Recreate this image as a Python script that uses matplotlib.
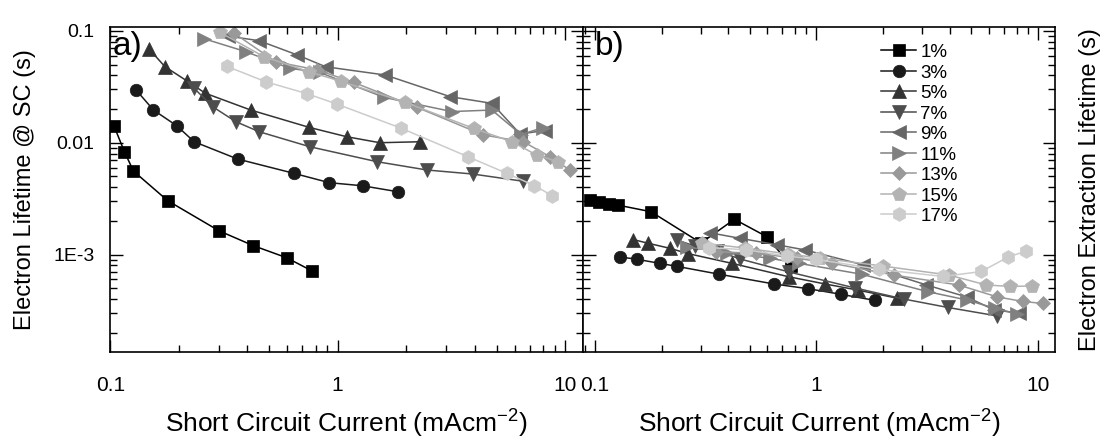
import numpy as np
import matplotlib
matplotlib.use("Agg")
import matplotlib.pyplot as plt
from matplotlib import font_manager
from matplotlib.ticker import FixedLocator, FixedFormatter, LogLocator, NullFormatter

# ---------------- data ----------------
series_labels = ["1%", "3%", "5%", "7%", "9%", "11%", "13%", "15%", "17%"]
series_colors = ["#000000", "#1a1a1a", "#333333", "#4d4d4d", "#666666",
                 "#808080", "#999999", "#b3b3b3", "#cccccc"]
series_markers = ["s", "o", "^", "v", "<", ">", "D", "p", "h"]

# short-circuit current (mA cm^-2), shared by both panels
jsc_1 = [0.0947, 0.1038, 0.1155, 0.1265, 0.179, 0.301, 0.426, 0.597, 0.769]
jsc_3 = [0.130, 0.155, 0.196, 0.234, 0.363, 0.643, 0.920, 1.287, 1.845]
jsc_5 = [0.1487, 0.174, 0.218, 0.262, 0.415, 0.748, 1.095, 1.533, 2.30]
jsc_7 = [0.234, 0.282, 0.357, 0.452, 0.754, 1.493, 2.474, 3.92, 6.56]
jsc_9 = [0.329, 0.452, 0.666, 0.886, 1.623, 3.13, 4.77, 6.35, 8.17]
jsc_11 = [0.2593, 0.395, 0.616, 0.834, 1.607, 3.18, 4.77, 6.41, 8.04]
jsc_13 = [0.351, 0.535, 0.815, 1.179, 2.236, 4.38, 6.56, 8.59, 10.5]
jsc_15 = [0.303, 0.4746, 0.7475, 1.036, 1.987, 3.96, 5.84, 7.51, 9.35]
jsc_17 = [0.326, 0.483, 0.736, 0.997, 1.909, 3.74, 5.55, 7.33, 8.81]

# panel a) electron lifetime at short circuit (s); nan = outside plotted range
tau_sc_1 = [np.nan, 0.01419, 0.00831, 0.00558, 0.00303, 0.00163, 0.00120, 0.000936, 0.000716]
tau_sc_3 = [0.0296, 0.0196, 0.0142, 0.0102, 0.00715, 0.00532, 0.00439, 0.00412, 0.00364]
tau_sc_5 = [0.0685, 0.0479, 0.0356, 0.0277, 0.0196, 0.01374, 0.01132, 0.0100, 0.0102]
tau_sc_7 = [0.0307, 0.0210, 0.01542, 0.01254, 0.00921, 0.00676, 0.0057, 0.00525, 0.00452]
tau_sc_9 = [0.0900, 0.0817, 0.0609, 0.0478, 0.0403, 0.0258, 0.0225, 0.01197, 0.01286]
tau_sc_11 = [0.0850, 0.0652, 0.0463, 0.0425, 0.0254, 0.0190, 0.0196, 0.01184, 0.01368]
tau_sc_13 = [0.0952, 0.0530, 0.0447, 0.0346, 0.0207, 0.01172, 0.0102, 0.0075, 0.0057]
tau_sc_15 = [0.0974, 0.0588, 0.0432, 0.0354, 0.0229, 0.01345, 0.0102, 0.00776, 0.00676]
tau_sc_17 = [0.0482, 0.0351, 0.0274, 0.0221, 0.01345, 0.0075, 0.00532, 0.00414, 0.00335]

# panel b) electron extraction lifetime (s)
tau_ex_1 = [0.003073, 0.002965, 0.00283, 0.00277, 0.002415, 0.001268, 0.002066, 0.001443, 0.000788]
tau_ex_3 = [0.000951, 0.000906, 0.000834, 0.000784, 0.000667, 0.000545, 0.000494, 0.000441, 0.000388]
tau_ex_5 = [0.001362, 0.00126, 0.001136, 0.001021, 0.000834, 0.000633, 0.000545, 0.000481, 0.000408]
tau_ex_7 = [0.001349, 0.001192, 0.001075, 0.000912, 0.000697, 0.000502, 0.0004, 0.000336, 0.000282]
tau_ex_9 = [0.001567, 0.001396, 0.00122, 0.0011, 0.000808, 0.000535, 0.000417, 0.000319, 0.0003]
tau_ex_11 = [0.001167, 0.001038, 0.000925, 0.000834, 0.000665, 0.000465, 0.000392, 0.00033, 0.000294]
tau_ex_13 = [0.00106, 0.001026, 0.000925, 0.000834, 0.000655, 0.000534, 0.000417, 0.00038, 0.000365]
tau_ex_15 = [0.001268, 0.001143, 0.00101, 0.000931, 0.000789, 0.000655, 0.000534, 0.000518, 0.000523]
tau_ex_17 = [0.001155, 0.0011, 0.00097, 0.000906, 0.000737, 0.000636, 0.000705, 0.00095, 0.00107]

x_ticks = [0.1, 1, 10]
x_tick_labels = ["0.1", "1", "10"]
y_ticks = [0.1, 0.01, 1e-3]
y_tick_labels = ["0.1", "0.01", "1E-3"]

jsc_all = [jsc_1, jsc_3, jsc_5, jsc_7, jsc_9, jsc_11, jsc_13, jsc_15, jsc_17]
tau_sc_all = [tau_sc_1, tau_sc_3, tau_sc_5, tau_sc_7, tau_sc_9, tau_sc_11, tau_sc_13, tau_sc_15, tau_sc_17]
tau_ex_all = [tau_ex_1, tau_ex_3, tau_ex_5, tau_ex_7, tau_ex_9, tau_ex_11, tau_ex_13, tau_ex_15, tau_ex_17]

# ---------------- style ----------------
names = {f.name for f in font_manager.fontManager.ttflist}
base_font = "Liberation Sans" if "Liberation Sans" in names else "DejaVu Sans"
plt.rcParams["font.family"] = [base_font, "DejaVu Sans"]
plt.rcParams["mathtext.fontset"] = "custom"
plt.rcParams["mathtext.rm"] = base_font
plt.rcParams["mathtext.it"] = base_font

marker_sizes = {"s": 8, "o": 9, "^": 10.5, "v": 10.5, "<": 10.5, ">": 10.5,
                "D": 7.5, "p": 10, "h": 10}

W, H = 1107, 443
fig = plt.figure(figsize=(W / 100, H / 100), dpi=100)
ax_a = fig.add_axes([110 / W, 1 - 352 / H, 473 / W, 325 / H])
ax_b = fig.add_axes([583 / W, 1 - 352 / H, 472 / W, 325 / H])

for ax, taus in ((ax_a, tau_sc_all), (ax_b, tau_ex_all)):
    for lab, col, mk, xs, ys in zip(series_labels, series_colors, series_markers, jsc_all, taus):
        ax.plot(xs, ys, color=col, marker=mk, ms=marker_sizes[mk], mfc=col, mec=col,
                mew=0.5, lw=1.1, label=lab)
    ax.set_xscale("log")
    ax.set_yscale("log")
    ax.set_ylim(1.343e-4, 0.1084)
    ax.xaxis.set_major_locator(FixedLocator(x_ticks))
    ax.xaxis.set_major_formatter(FixedFormatter(x_tick_labels))
    ax.xaxis.set_minor_locator(LogLocator(base=10, subs=np.arange(2, 10)))
    ax.xaxis.set_minor_formatter(NullFormatter())
    ax.yaxis.set_major_locator(FixedLocator(y_ticks))
    ax.yaxis.set_major_formatter(FixedFormatter(y_tick_labels))
    ax.yaxis.set_minor_locator(LogLocator(base=10, subs=np.arange(2, 10), numticks=20))
    ax.yaxis.set_minor_formatter(NullFormatter())
    ax.tick_params(which="both", direction="in", top=True, right=True, width=1.0)
    ax.tick_params(which="major", length=9)
    ax.tick_params(which="minor", length=5)
    ax.tick_params(axis="x", which="major", pad=17, labelsize=15)
    ax.tick_params(axis="y", which="major", pad=11, labelsize=14)
    for sp in ax.spines.values():
        sp.set_linewidth(1.2)
    ax.set_xlabel(r"Short Circuit Current (mAcm$^{-2}$)", fontsize=19)
    ax.xaxis.set_label_coords(0.5, -0.172)
    ax.xaxis.label.set_va("top")

ax_a.set_xlim(0.0998, 12.0)
ax_b.set_xlim(0.0883, 11.93)
ax_b.tick_params(axis="y", which="both", labelleft=False)

ax_a.set_ylabel("Electron Lifetime @ SC (s)", fontsize=17)
ax_a.yaxis.set_label_coords(-0.18, 0.5)
ax_a.yaxis.label.set_va("center")

ax_b.set_ylabel("Electron Extraction Lifetime (s)", fontsize=17)
ax_b.yaxis.set_label_position("right")
ax_b.yaxis.set_label_coords(1.074, 0.5)
ax_b.yaxis.label.set_va("center")
ax_b.yaxis.label.set_rotation(90)

ax_a.text(0.006, 0.914, "a)", transform=ax_a.transAxes, fontsize=24, va="baseline", ha="left")
ax_b.text(0.025, 0.914, "b)", transform=ax_b.transAxes, fontsize=24, va="baseline", ha="left")

leg = ax_b.legend(loc="upper left", bbox_to_anchor=(0.631, 0.948), frameon=False,
                  fontsize=13.5, handlelength=1.9, handletextpad=0.2, labelspacing=0.18,
                  borderpad=0, borderaxespad=0)

fig.savefig("out.png", dpi=100)
